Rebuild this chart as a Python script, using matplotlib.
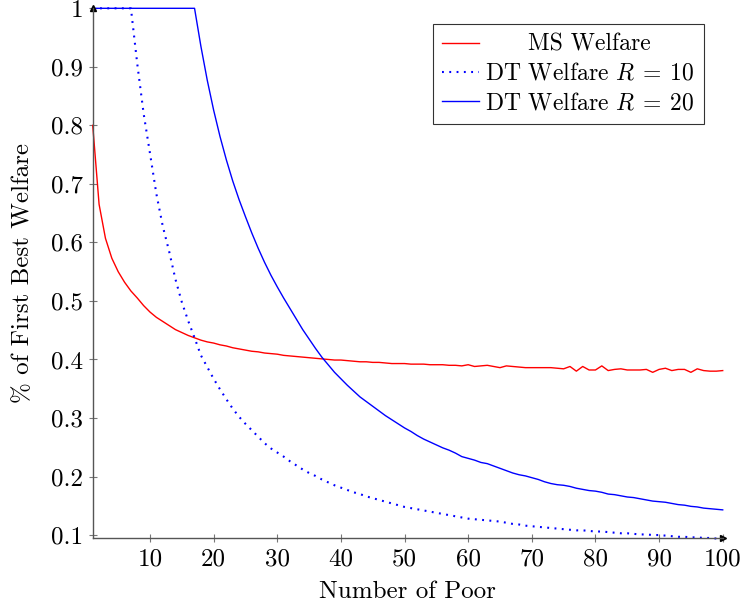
"""Welfare ratio vs number of poor: MS welfare against two DT variants."""
import matplotlib
matplotlib.use("Agg")
import matplotlib.pyplot as plt

plt.rcParams["font.family"] = "serif"
plt.rcParams["font.serif"] = ["cmr10"]
plt.rcParams["mathtext.fontset"] = "cm"
plt.rcParams["axes.formatter.use_mathtext"] = True

# number of poor, 1..100
num_poor = list(range(1, 101))

ms_welfare = [
    0.800, 0.665, 0.607, 0.573, 0.550, 0.532, 0.517, 0.505, 0.492, 0.481,
    0.472, 0.465, 0.458, 0.451, 0.446, 0.441, 0.437, 0.433, 0.430, 0.428,
    0.425, 0.423, 0.420, 0.418, 0.416, 0.414, 0.413, 0.411, 0.410, 0.409,
    0.407, 0.406, 0.405, 0.404, 0.403, 0.402, 0.401, 0.400, 0.399, 0.399,
    0.398, 0.397, 0.396, 0.396, 0.395, 0.395, 0.394, 0.393, 0.393, 0.393,
    0.392, 0.392, 0.392, 0.391, 0.391, 0.391, 0.390, 0.390, 0.389, 0.391,
    0.388, 0.389, 0.390, 0.388, 0.386, 0.389, 0.388, 0.387, 0.386, 0.386,
    0.386, 0.386, 0.386, 0.385, 0.384, 0.388, 0.380, 0.388, 0.382, 0.382,
    0.389, 0.381, 0.383, 0.384, 0.382, 0.382, 0.382, 0.383, 0.378, 0.383,
    0.385, 0.381, 0.383, 0.383, 0.378, 0.384, 0.381, 0.380, 0.380, 0.381,
]

dt_welfare_r10 = [
    1.000, 1.000, 1.000, 1.000, 1.000, 1.000, 1.000, 0.905, 0.820, 0.752,
    0.683, 0.628, 0.585, 0.537, 0.498, 0.466, 0.437, 0.407, 0.387, 0.367,
    0.349, 0.332, 0.316, 0.302, 0.290, 0.279, 0.268, 0.257, 0.248, 0.241,
    0.234, 0.226, 0.219, 0.212, 0.206, 0.201, 0.195, 0.190, 0.185, 0.181,
    0.177, 0.173, 0.170, 0.166, 0.163, 0.160, 0.157, 0.154, 0.151, 0.148,
    0.146, 0.144, 0.142, 0.140, 0.138, 0.136, 0.134, 0.132, 0.130, 0.128,
    0.127, 0.126, 0.125, 0.124, 0.123, 0.121, 0.119, 0.118, 0.116, 0.115,
    0.114, 0.113, 0.112, 0.111, 0.110, 0.109, 0.108, 0.108, 0.107, 0.106,
    0.106, 0.105, 0.104, 0.103, 0.103, 0.102, 0.101, 0.101, 0.100, 0.100,
    0.099, 0.098, 0.097, 0.097, 0.096, 0.096, 0.095, 0.095, 0.094, 0.094,
]

dt_welfare_r20 = [
    1.000, 1.000, 1.000, 1.000, 1.000, 1.000, 1.000, 1.000, 1.000, 1.000,
    1.000, 1.000, 1.000, 1.000, 1.000, 1.000, 1.000, 0.935, 0.877, 0.826,
    0.781, 0.741, 0.705, 0.673, 0.644, 0.616, 0.590, 0.566, 0.544, 0.524,
    0.505, 0.487, 0.469, 0.451, 0.435, 0.419, 0.404, 0.391, 0.378, 0.367,
    0.356, 0.346, 0.336, 0.328, 0.320, 0.312, 0.304, 0.297, 0.290, 0.283,
    0.277, 0.270, 0.264, 0.259, 0.254, 0.249, 0.245, 0.240, 0.234, 0.231,
    0.228, 0.224, 0.222, 0.218, 0.214, 0.210, 0.206, 0.203, 0.201, 0.198,
    0.195, 0.191, 0.188, 0.186, 0.185, 0.183, 0.180, 0.178, 0.176, 0.175,
    0.173, 0.170, 0.169, 0.167, 0.165, 0.164, 0.162, 0.160, 0.158, 0.157,
    0.156, 0.154, 0.152, 0.151, 0.149, 0.148, 0.146, 0.145, 0.144, 0.143,
]

x_ticks = [10, 20, 30, 40, 50, 60, 70, 80, 90, 100]
y_ticks = [0.1, 0.2, 0.3, 0.4, 0.5, 0.6, 0.7, 0.8, 0.9, 1.0]
y_tick_labels = ["0.1", "0.2", "0.3", "0.4", "0.5", "0.6", "0.7", "0.8", "0.9", "1"]

FS = 18
LEG_FS = 17

fig = plt.figure(figsize=(7.43, 6.15), dpi=100)
ax = fig.add_axes([0.1248, 0.1247, 0.8479, 0.8618])

ax.plot(num_poor, ms_welfare, color="#ff0000", lw=1.0, label="MS Welfare", clip_on=False)
ax.plot(num_poor, dt_welfare_r10, color="#0000ff", lw=1.5, ls=(0, (0.9, 2.6)),
        label=r"DT Welfare $R\:=\:10$", clip_on=False)
ax.plot(num_poor, dt_welfare_r20, color="#0000ff", lw=1.0,
        label=r"DT Welfare $R\:=\:20$", clip_on=False)

ax.set_xlim(1, 100)
ax.set_ylim(0.0944, 1.0)

ax.set_xticks(x_ticks)
ax.set_xticklabels([str(t) for t in x_ticks])
ax.set_yticks(y_ticks)
ax.set_yticklabels(y_tick_labels)
ax.tick_params(direction="inout", length=6, width=0.8, color="#777777",
               labelsize=FS, labelcolor="black", pad=4)

for side in ("top", "right"):
    ax.spines[side].set_visible(False)
for side in ("left", "bottom"):
    ax.spines[side].set_color("#555555")
    ax.spines[side].set_linewidth(1.0)

# axis arrow heads
ax.plot(0, 1, marker="^", color="black", markersize=4, transform=ax.transAxes, clip_on=False)
ax.plot(1, 0, marker=">", color="black", markersize=4, transform=ax.transAxes, clip_on=False)

ax.set_xlabel("Number of Poor", fontsize=FS, labelpad=8)
ax.set_ylabel("% of First Best Welfare", fontsize=FS, labelpad=12)

leg = ax.legend(loc="upper right", bbox_to_anchor=(0.970, 0.970), borderaxespad=0,
                fontsize=LEG_FS, frameon=True, fancybox=False, edgecolor="black",
                handlelength=1.55, handletextpad=0.28, labelspacing=0.3,
                borderpad=0.4)
leg.get_frame().set_linewidth(0.8)

# centre the legend entries in their column, as in the original
fig.canvas.draw()
renderer = fig.canvas.get_renderer()
texts = leg.get_texts()
widths = [t.get_window_extent(renderer).width for t in texts]
maxw = max(widths)
for t, w in zip(texts, widths):
    t.set_x((maxw - w) / 2)

fig.savefig("out.png", dpi=100)
